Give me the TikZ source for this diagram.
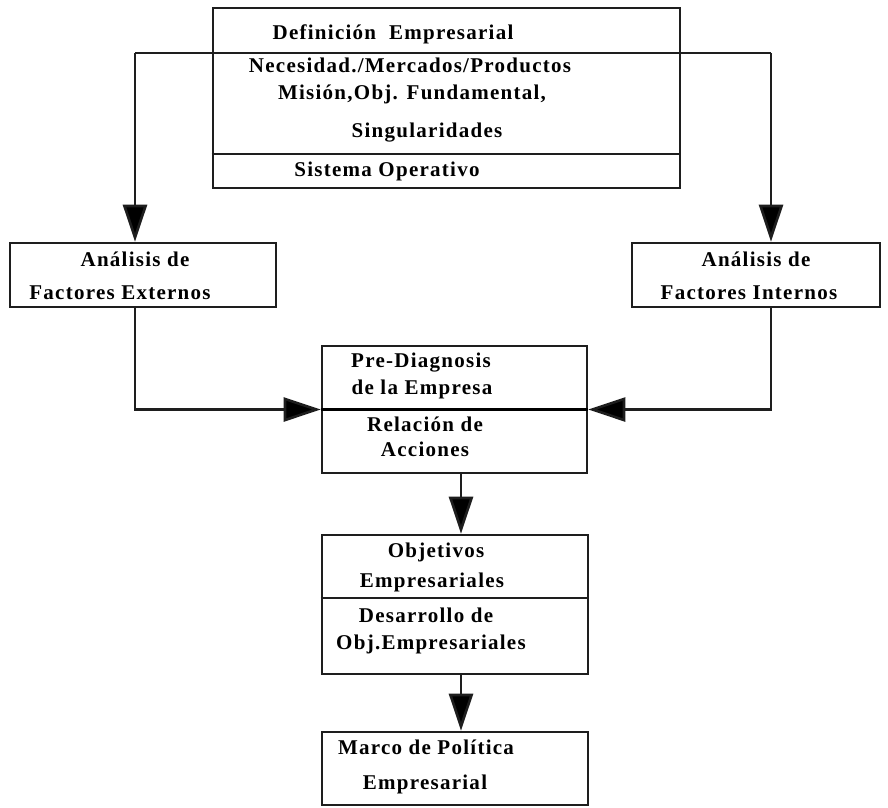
\documentclass[tikz,border=0pt]{standalone}
\usepackage{fontspec}
\setmainfont{Liberation Serif}[LetterSpace=6]
\usetikzlibrary{arrows.meta}
\definecolor{ink}{HTML}{1E1E1E}
\begin{document}
\begin{tikzpicture}[x=1pt,y=-1pt,
  box/.style={draw=ink, line width=2.6pt, rectangle, inner sep=0pt},
  wire/.style={draw=ink, line width=2.6pt},
  arr/.style={draw=ink, line width=2.6pt, -{Triangle[length=37pt,width=24pt,fill=black]}},
  lbl/.style={font=\fontsize{21}{26}\selectfont\bfseries, inner sep=0pt, anchor=base, text=black}]
\useasboundingbox (0,0) rectangle (888,807);
\fill[white] (0,0) rectangle (888,807);

% boxes
\node[box, minimum width=467pt, minimum height=180pt] (def) at (446.5,98) {};
\node[box, minimum width=266pt, minimum height=64pt]  (ext) at (143,275) {};
\node[box, minimum width=248pt, minimum height=64pt]  (int) at (756,275) {};
\node[box, minimum width=265pt, minimum height=127pt] (pre) at (454.5,409.5) {};
\node[box, minimum width=266pt, minimum height=139pt] (obj) at (455,604.5) {};
\node[box, minimum width=266pt, minimum height=73pt]  (mar) at (455,768.5) {};

% section dividers
\draw[wire] (def.west |- 0,154) -- (def.east |- 0,154);
\draw[draw=black, line width=3.6pt] (pre.west) -- (pre.east);
\draw[wire] (obj.west |- 0,598) -- (obj.east |- 0,598);

% connectors
\coordinate (jL) at (135,53);
\coordinate (jR) at (771,53);
\coordinate (spine) at (461,0);
\draw[wire] (jL) -- (jR);
\draw[arr] (jL) -- (jL |- ext.north);
\draw[arr] (jR) -- (jR |- int.north);
\draw[arr] (jL |- ext.south) |- (pre.west);
\draw[arr] (jR |- int.south) |- (pre.east);
\draw[arr] (spine |- pre.south) -- (spine |- obj.north);
\draw[arr] (spine |- obj.south) -- (spine |- mar.north);

% texts
\node[lbl] (t1) at (393,39)  {Definición\ \ Empresarial};
\node[lbl] (t2) at (410,72)  {Necesidad./Mercados/Productos};
\node[lbl] (t3) at (412,99)  {Misión,Obj. Fundamental,};
\node[lbl] (t4) at (427,137) {Singularidades};
\node[lbl] (t5) at (387,176) {Sistema Operativo};

\node[lbl] (e1) at (135,266) {Análisis de};
\node[lbl] (e2) at (120,299) {Factores Externos};
\node[lbl] (i1) at (756,266) {Análisis de};
\node[lbl] (i2) at (749,299) {Factores Internos};

\node[lbl] (p1) at (421,367) {Pre-Diagnosis};
\node[lbl] (p2) at (422,394) {de la Empresa};
\node[lbl] (p3) at (425,431) {Relación de};
\node[lbl] (p4) at (425,456) {Acciones};

\node[lbl] (o1) at (436,557) {Objetivos};
\node[lbl] (o2) at (432,587) {Empresariales};
\node[lbl] (o3) at (426,622) {Desarrollo de};
\node[lbl] (o4) at (431,649) {Obj.Empresariales};

\node[lbl] (m1) at (426,754) {Marco de Política};
\node[lbl] (m2) at (425,789) {Empresarial};
\end{tikzpicture}
\end{document}
